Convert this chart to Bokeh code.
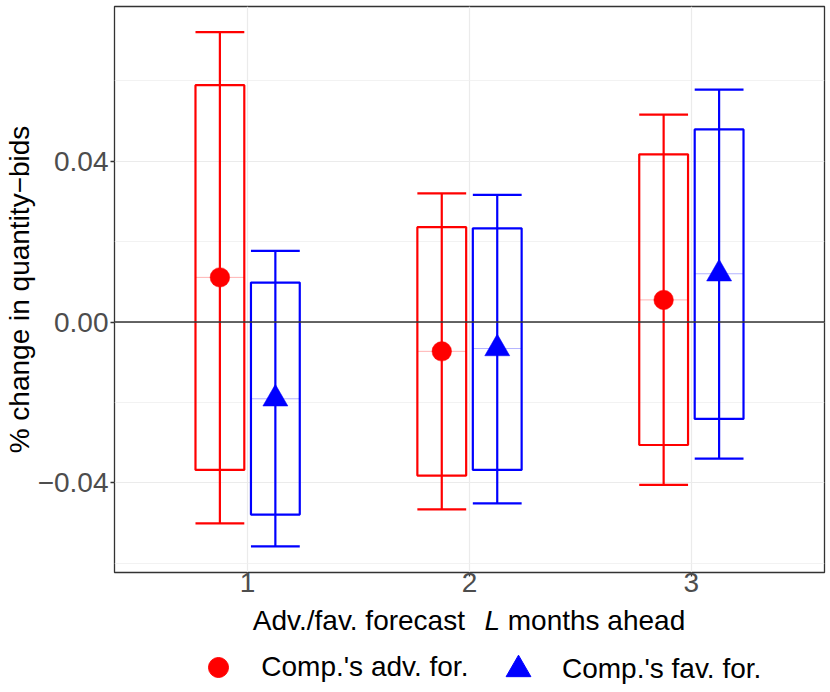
from bokeh.plotting import figure
from bokeh.layouts import column
from bokeh.models import Range1d, FixedTicker, Span, Legend, LegendItem, ColumnDataSource
from bokeh.core.properties import value
from bokeh.embed import file_html
from bokeh.resources import INLINE

# ---------------- data ----------------
groups = [1, 2, 3]
x_tick_labels = ["1", "2", "3"]

adv_mid = [0.0111, -0.0073, 0.0055]
adv_box_lo = [-0.0368, -0.0382, -0.0306]
adv_box_hi = [0.0589, 0.0236, 0.0417]
adv_ci_lo = [-0.0501, -0.0466, -0.0405]
adv_ci_hi = [0.0721, 0.0320, 0.0516]

fav_mid = [-0.0191, -0.0066, 0.0120]
fav_box_lo = [-0.0479, -0.0368, -0.0241]
fav_box_hi = [0.0098, 0.0233, 0.0479]
fav_ci_lo = [-0.0558, -0.0451, -0.0340]
fav_ci_hi = [0.0177, 0.0316, 0.0578]

y_tick_values = [-0.04, 0.0, 0.04]
y_tick_labels = ["\u22120.04", "0.00", "0.04"]
y_minor_values = [-0.06, -0.02, 0.02, 0.06]

series_names = ["Comp.'s adv. for.", "Comp.'s fav. for."]
x_title_parts = ["Adv./fav. forecast", "L", "months ahead"]
y_title = "% change in quantity\u2212bids"

RED = "#FF0000"
BLUE = "#0000FF"
FONT = "Liberation Sans"
DODGE = 0.125
BOXW = 0.22
W = 830
H_MAIN = 603
H_FOOT = 89
BL, BR = 113, 6          # left / right borders shared by both figures

# ---------------- main panel ----------------
p = figure(width=W, height=H_MAIN, title=None,
           x_range=Range1d(0.4, 3.6), y_range=Range1d(-0.06231, 0.07848),
           output_backend="svg", toolbar_location=None,
           min_border_left=BL, min_border_right=BR, min_border_top=6, min_border_bottom=31)
p.background_fill_color = "white"
p.border_fill_color = "white"
p.outline_line_color = "#333333"
p.outline_line_width = 1.3

p.xaxis.ticker = FixedTicker(ticks=groups)
p.xaxis.major_label_overrides = {g: lab for g, lab in zip(groups, x_tick_labels)}
p.yaxis.ticker = FixedTicker(ticks=y_tick_values, minor_ticks=y_minor_values)
p.yaxis.major_label_overrides = {v: lab for v, lab in zip(y_tick_values, y_tick_labels)}
for ax in (p.xaxis, p.yaxis):
    ax.axis_line_color = None
    ax.major_tick_line_color = "#333333"
    ax.major_tick_line_width = 1.3
    ax.major_tick_out = 4
    ax.major_tick_in = 0
    ax.minor_tick_line_color = None
    ax.major_label_text_font = FONT
    ax.major_label_text_font_size = "28px"
    ax.major_label_text_color = "#4D4D4D"
p.xaxis.major_label_standoff = -4
p.yaxis.major_label_standoff = 2
p.yaxis.axis_label = y_title
p.yaxis.axis_label_text_font = FONT
p.yaxis.axis_label_text_font_size = "28px"
p.yaxis.axis_label_text_font_style = "normal"
p.yaxis.axis_label_text_color = "black"
p.yaxis.axis_label_standoff = 0

p.xgrid.grid_line_color = "#EBEBEB"
p.xgrid.grid_line_width = 1.2
p.ygrid.grid_line_color = "#EBEBEB"
p.ygrid.grid_line_width = 1.2
p.ygrid.minor_grid_line_color = "#EFEFEF"
p.ygrid.minor_grid_line_width = 0.8

p.add_layout(Span(location=0, dimension="width", line_color="#333333", line_width=1.4))


def draw_series(offset, mid, blo, bhi, clo, chi, color, marker, size):
    xs = [g + offset for g in groups]
    src = ColumnDataSource(dict(
        x=xs, left=[x - BOXW / 2 for x in xs], right=[x + BOXW / 2 for x in xs],
        mid=mid, blo=blo, bhi=bhi, clo=clo, chi=chi))
    p.quad(left="left", right="right", top="bhi", bottom="blo", source=src,
           fill_color=None, line_color=color, line_width=2.2)
    p.segment(x0="left", x1="right", y0="mid", y1="mid", source=src,
              line_color=color, line_alpha=0.3, line_width=1)
    p.segment(x0="x", x1="x", y0="clo", y1="chi", source=src, line_color=color, line_width=2.2)
    p.segment(x0="left", x1="right", y0="clo", y1="clo", source=src, line_color=color, line_width=2.2)
    p.segment(x0="left", x1="right", y0="chi", y1="chi", source=src, line_color=color, line_width=2.2)
    p.scatter(x="x", y="mid", source=src, marker=marker, size=size,
              fill_color=color, line_color=color, line_width=0.5)


draw_series(-DODGE, adv_mid, adv_box_lo, adv_box_hi, adv_ci_lo, adv_ci_hi, RED, "circle", 19.5)
draw_series(DODGE, fav_mid, fav_box_lo, fav_box_hi, fav_ci_lo, fav_ci_hi, BLUE, "triangle", 25)

# ---------------- footer: x-axis title + legend (pixel space, frame aligned with main) ----
f = figure(width=W, height=H_FOOT, x_range=Range1d(BL, W - BR), y_range=Range1d(H_FOOT, 0),
           x_axis_type=None, y_axis_type=None, title=None,
           output_backend="svg", toolbar_location=None,
           min_border_left=BL, min_border_right=BR, min_border_top=0, min_border_bottom=0)
f.outline_line_color = None
f.background_fill_color = "white"
f.border_fill_color = "white"

TITLE_Y = 16.5
f.text(x=[251.5, 506.8], y=[TITLE_Y, TITLE_Y], text=[x_title_parts[0], x_title_parts[2]],
       text_font=value(FONT), text_font_size=value("28px"), text_color="black",
       text_align="left", text_baseline="middle")
f.text(x=[483.4], y=[TITLE_Y], text=[x_title_parts[1]],
       text_font=value(FONT), text_font_size=value("28px"), text_font_style="italic",
       text_color="black", text_align="left", text_baseline="middle")

nan = float("nan")
k_adv = f.scatter(x=[nan], y=[nan], marker="circle", fill_color=RED, line_color=RED)
k_fav = f.scatter(x=[nan], y=[nan], marker="triangle", fill_color=BLUE, line_color=BLUE)

common = dict(orientation="horizontal", padding=0, margin=0, spacing=0,
              border_line_color=None, background_fill_alpha=0,
              label_text_font=FONT, label_text_font_size="28px", label_text_color="black")
leg1 = Legend(items=[LegendItem(label=series_names[0], renderers=[k_adv])],
              location=(192.3 - BL, 0), glyph_width=50, glyph_height=50, label_standoff=18, **common)
leg2 = Legend(items=[LegendItem(label=series_names[1], renderers=[k_fav])],
              location=(486 - BL, -7.6), glyph_width=62, glyph_height=62, label_standoff=13, **common)
f.add_layout(leg1)
f.add_layout(leg2)

layout = column(p, f, spacing=0)
open("out.html", "w").write(file_html(layout, INLINE))
